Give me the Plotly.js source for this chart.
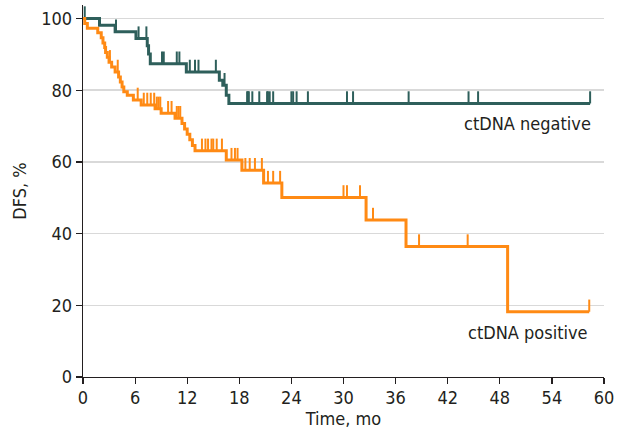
<!DOCTYPE html>
<html>
<head>
<meta charset="utf-8">
<script src="https://cdn.plot.ly/plotly-3.0.1.min.js"></script>
<style>html,body{margin:0;padding:0;background:#fff;}#chart{width:618px;height:439px;}</style>
</head>
<body>
<div id="chart"></div>
<script>
// ctDNA negative: event times (mo) and survival after each event (%)
const negTimes = [1.9, 3.7, 6.1, 7.4, 7.55, 7.75, 11.9, 15.7, 16.1, 16.5, 16.8];
const negSurv  = [98.1, 96.3, 94.4, 92.4, 90.1, 87.4, 85.1, 82.8, 81.4, 78.6, 76.3];
const negCensor = [0.2, 3.8, 6.4, 7.3, 9.1, 9.3, 10.8, 11.1, 12.3, 12.9, 13.3, 15.3, 16.3,
  18.9, 19.0, 19.1, 19.5, 20.3, 21.2, 21.3, 21.5, 21.9, 24.0, 24.2, 24.6, 25.9, 30.4, 31.1,
  37.5, 44.4, 45.5, 58.4];
const negEnd = 58.4;

// ctDNA positive
const posTimes = [0.2, 0.5, 1.7, 2.1, 2.3, 2.5, 2.6, 2.8, 3.0, 3.3, 3.7, 4.1, 4.3, 4.5, 4.7,
  5.1, 5.8, 6.7, 8.3, 9.0, 10.6, 11.4, 11.7, 12.0, 12.3, 12.6, 12.9, 16.5, 18.3, 20.8, 22.9,
  32.6, 37.2, 48.9];
const posSurv = [98.6, 97.3, 96.0, 94.6, 93.2, 91.9, 90.5, 89.2, 87.8, 86.5, 85.1, 83.7, 82.3,
  80.9, 79.6, 78.6, 77.3, 75.9, 74.8, 73.6, 72.2, 70.7, 69.2, 67.7, 66.2, 64.6, 63.1, 60.5,
  57.7, 54.1, 50.1, 43.8, 36.4, 18.2];
const posCensor = [3.1, 4.0, 6.3, 7.0, 7.4, 7.8, 8.2, 8.5, 8.7, 8.9, 9.8, 10.2, 10.8, 11.0,
  11.2, 13.7, 14.1, 14.4, 14.8, 15.0, 15.4, 16.0, 17.1, 17.5, 17.8, 18.7, 19.2, 19.8, 20.6,
  21.3, 21.9, 22.7, 30.0, 30.4, 31.9, 33.4, 38.7, 44.3, 58.3];
const posEnd = 58.3;

const xTicks = [0, 6, 12, 18, 24, 30, 36, 42, 48, 54, 60];
const yTicks = [0, 20, 40, 60, 80, 100];

const negColor = '#2e5f5b';
const posColor = '#ff8a14';
const tickH = 3.4;

function stepTrace(times, surv, end, color) {
  const x = [0].concat(times, [end]);
  const y = [100].concat(surv, [surv[surv.length - 1]]);
  return {x, y, type: 'scatter', mode: 'lines', line: {shape: 'hv', color, width: 3},
    hoverinfo: 'skip', showlegend: false};
}
function levelAt(times, surv, t) {
  let s = 100;
  for (let i = 0; i < times.length; i++) { if (times[i] <= t) s = surv[i]; }
  return s;
}
function censorTrace(times, surv, cens, color) {
  const x = [], y = [];
  cens.forEach(c => {
    const s = levelAt(times, surv, c);
    x.push(c, c, null); y.push(s, s + tickH, null);
  });
  return {x, y, type: 'scatter', mode: 'lines', line: {color, width: 2},
    hoverinfo: 'skip', showlegend: false};
}

const font = "'Liberation Sans Narrow', 'DejaVu Sans Condensed', 'Liberation Sans', sans-serif";
const data = [
  stepTrace(negTimes, negSurv, negEnd, negColor),
  censorTrace(negTimes, negSurv, negCensor, negColor),
  stepTrace(posTimes, posSurv, posEnd, posColor),
  censorTrace(posTimes, posSurv, posCensor, posColor)
];
const layout = {
  width: 618, height: 439,
  margin: {l: 83, r: 14, t: 5, b: 62},
  paper_bgcolor: '#fff', plot_bgcolor: '#fff',
  font: {family: font, size: 18, color: '#231f20'},
  xaxis: {range: [0, 60], tickvals: xTicks, ticktext: xTicks.map(String),
    showgrid: false, zeroline: false, showline: true, linecolor: '#231f20', linewidth: 1.3,
    ticks: 'outside', ticklen: 6, tickwidth: 1.2, tickcolor: '#231f20', ticklabelstandoff: -2,
    title: {text: 'Time, mo', font: {size: 18}, standoff: 0}, fixedrange: true},
  yaxis: {range: [0, 103.77], tickvals: yTicks, ticktext: yTicks.map(String),
    showgrid: true, gridcolor: '#d9d9d9', gridwidth: 1.5, zeroline: false,
    showline: true, linecolor: '#231f20', linewidth: 1.3,
    ticks: 'outside', ticklen: 6, tickwidth: 1.2, tickcolor: '#231f20',
    title: {text: 'DFS, %', font: {size: 18}, standoff: 10}, fixedrange: true},
  annotations: [
    {x: 58.7, y: 70.8, xref: 'x', yref: 'y', text: 'ctDNA negative', showarrow: false,
      xanchor: 'right', yanchor: 'middle', font: {size: 18, color: '#231f20'}},
    {x: 58.4, y: 12.4, xref: 'x', yref: 'y', text: 'ctDNA positive', showarrow: false,
      xanchor: 'right', yanchor: 'middle', font: {size: 18, color: '#231f20'}}
  ]
};
Plotly.newPlot('chart', data, layout, {displayModeBar: false, staticPlot: true});
</script>
</body>
</html>
